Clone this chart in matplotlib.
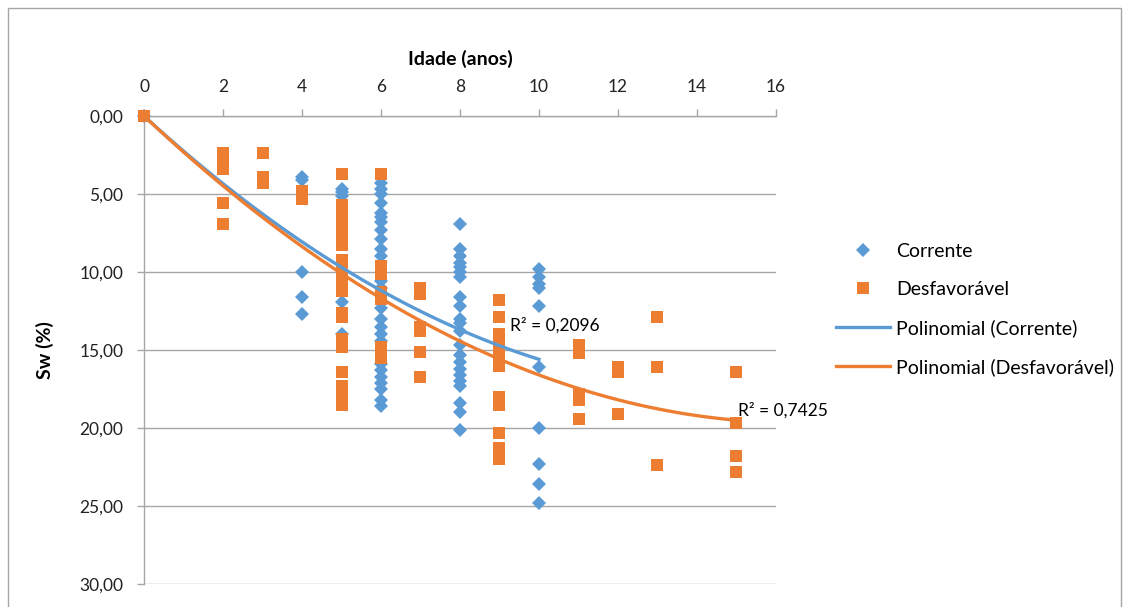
import numpy as np
import matplotlib
matplotlib.use('Agg')
import matplotlib.pyplot as plt
from matplotlib.patches import Rectangle
from matplotlib.ticker import FuncFormatter

plt.rcParams['font.family'] = ['Lato', 'DejaVu Sans']

# Corrente (idade, Sw)
corrente_idade = ([0] + [4] * 5 + [5] * 5 + [6] * 25 + [8] * 22 + [10] * 10)
corrente_sw = [0.0,
               3.9, 4.1, 10.0, 11.6, 12.7,
               4.7, 4.9, 5.1, 11.9, 14.0,
               4.3, 4.7, 5.0, 5.6, 6.2, 6.5, 6.8, 7.3, 7.9, 8.5, 9.0, 10.6, 11.0,
               12.3, 13.0, 13.5, 14.0, 14.4, 15.9, 16.3, 16.7, 17.1, 17.5, 18.2, 18.6,
               6.9, 8.5, 9.0, 9.4, 9.7, 10.0, 10.3, 11.6, 12.2, 13.0, 13.3, 13.8,
               14.7, 15.3, 15.8, 16.2, 16.6, 17.0, 17.3, 18.4, 19.0, 20.1,
               9.8, 10.3, 10.8, 11.0, 12.2, 16.1, 20.0, 22.3, 23.6, 24.8]

# Desfavoravel (idade, Sw)
desfav_idade = ([0] + [2] * 6 + [3] * 3 + [4] * 2 + [5] * 22 + [6] * 8 + [7] * 6
                + [9] * 13 + [11] * 5 + [12] * 3 + [13] * 3 + [15] * 4)
desfav_sw = [0.0,
             2.4, 2.8, 3.1, 3.4, 5.6, 6.9,
             2.4, 3.9, 4.3,
             4.8, 5.3,
             3.7, 5.7, 6.0, 6.4, 6.8, 7.2, 7.5, 8.3, 9.2, 9.6, 10.0, 10.4, 10.8,
             11.2, 12.6, 12.9, 14.3, 14.8, 16.4, 17.3, 18.1, 18.5,
             3.7, 9.6, 10.1, 11.3, 11.7, 14.8, 15.2, 15.5,
             11.0, 11.4, 13.5, 13.8, 15.1, 16.7,
             11.8, 12.9, 14.0, 14.5, 15.0, 15.5, 16.0, 18.0, 18.5, 20.3, 21.3, 21.6, 22.0,
             14.7, 15.2, 17.8, 18.2, 19.4,
             16.1, 16.4, 19.1,
             12.9, 16.1, 22.4,
             16.4, 19.7, 21.8, 22.8]

# polynomial trend coefficients (a, b, c)
trend_corrente = [-0.076, 2.32, 0.0]
trend_desfav = [-0.072, 2.38, 0.0]
r2_corrente = '0,2096'
r2_desfav = '0,7425'

azul = '#5B9BD5'
laranja = '#ED7D31'
cinza = '#a6a6a6'

fig = plt.figure(figsize=(11.23, 6.07), dpi=100)
ax = fig.add_axes([144 / 1123, 1 - 584 / 607, (776 - 144) / 1123, (584 - 116) / 607])

ax.plot(corrente_idade, corrente_sw, linestyle='none', marker='D', markersize=7.5,
        color=azul, markeredgewidth=0, label='Corrente', zorder=3, clip_on=False)
ax.plot(desfav_idade, desfav_sw, linestyle='none', marker='s', markersize=8,
        color=laranja, markeredgewidth=0, label='Desfavorável', zorder=3, clip_on=False)

xc = np.linspace(0, max(corrente_idade), 100)
xd = np.linspace(0, max(desfav_idade), 100)
ax.plot(xc, np.polyval(trend_corrente, xc), color=azul, lw=2.4,
        label='Polinomial (Corrente)', zorder=4)
ax.plot(xd, np.polyval(trend_desfav, xd), color=laranja, lw=2.4,
        label='Polinomial (Desfavorável)', zorder=4)

ax.text(9.27, 13.4, 'R² = ' + r2_corrente, fontsize=12.5, va='center', ha='left', zorder=5)
ax.text(15.05, 18.85, 'R² = ' + r2_desfav, fontsize=12.5, va='center', ha='left', zorder=5)

ax.set_xlim(0, 16)
ax.set_ylim(30, 0)
ax.set_xticks(range(0, 17, 2))
ax.set_yticks(range(0, 31, 5))
ax.yaxis.set_major_formatter(FuncFormatter(lambda v, p: f'{v:.2f}'.replace('.', ',')))
ax.xaxis.tick_top()
ax.xaxis.set_label_position('top')
ax.tick_params(axis='both', direction='out', length=5, width=1, color=cinza,
               labelsize=12.5, pad=10, labelcolor='#222222')
ax.grid(axis='y', color=cinza, lw=1)
ax.set_axisbelow(True)
for s in ['right', 'bottom']:
    ax.spines[s].set_visible(False)
for s in ['left', 'top']:
    ax.spines[s].set_color(cinza)
    ax.spines[s].set_linewidth(1)

ax.set_xlabel('Idade (anos)', fontsize=14, fontweight='bold', labelpad=10)
ax.set_ylabel('Sw (%)', fontsize=14, fontweight='bold', labelpad=18)

fig.legend(loc='center left', bbox_to_anchor=(826 / 1123, 1 - 309.5 / 607),
           frameon=False, fontsize=14, handlelength=2.8, handletextpad=0.3,
           labelspacing=1.08, borderpad=0, numpoints=1)

fig.patches.append(Rectangle((8 / 1123, -0.05), (1121 - 8) / 1123, 1.05 - 8 / 607,
                             transform=fig.transFigure, fill=False, edgecolor=cinza, lw=1))

fig.savefig('out.png', dpi=100)
